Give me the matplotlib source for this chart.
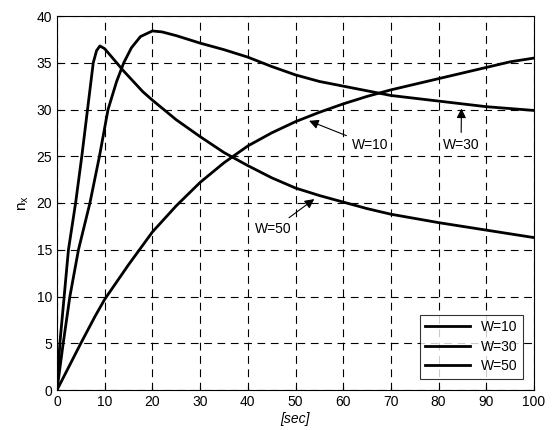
"""Load factor n_x versus time for three values of W."""

import matplotlib
matplotlib.use('Agg')
from matplotlib import pyplot as plt

plt.rcParams['font.family'] = ['Liberation Sans', 'DejaVu Sans']

# W=10: slow rise, still climbing at 100 s.
T_W10 = [0, 3, 5, 8, 10, 15, 20, 25, 30, 35, 40, 45, 50, 55, 60, 65, 70, 75, 80, 85, 90, 95, 100]
NX_W10 = [0, 3.0, 5.0, 7.9, 9.7, 13.4, 16.9, 19.7, 22.2, 24.3, 26.1, 27.5, 28.7, 29.7, 30.6, 31.4, 32.1, 32.7, 33.3, 33.9, 34.5, 35.1, 35.5]

# W=30: peak near 20 s.
T_W30 = [0, 1.3, 2.7, 4.5, 6.9, 8.9, 10.7, 12.5, 14, 15.6, 17.5, 20, 22, 25, 30, 35, 40, 45, 50, 55, 60, 65, 70, 75, 80, 85, 90, 95, 100]
NX_W30 = [0, 5, 10, 15, 20, 25, 30, 33.0, 35.0, 36.6, 37.8, 38.4, 38.3, 37.9, 37.1, 36.4, 35.6, 34.6, 33.7, 33.0, 32.5, 32.0, 31.5, 31.2, 30.9, 30.6, 30.3, 30.1, 29.9]

# W=50: sharp peak near 9 s.
T_W50 = [0, 0.6, 1.5, 2.4, 3.9, 5.2, 6.4, 7.6, 8.3, 9, 10, 12, 14, 16, 18, 20, 25, 30, 35, 40, 45, 50, 55, 60, 65, 70, 80, 90, 100]
NX_W50 = [0, 5, 10, 15, 20, 25, 30, 35, 36.3, 36.8, 36.5, 35.3, 34.1, 33.0, 31.9, 31.0, 28.9, 27.1, 25.4, 24.0, 22.7, 21.6, 20.8, 20.1, 19.4, 18.8, 17.9, 17.1, 16.3]

LEGEND_LABELS = ['W=10', 'W=30', 'W=50']


def _main():
    fig = plt.figure(figsize=(5.55, 4.30), dpi=100)
    ax = fig.add_axes([57 / 555, 1 - 390 / 430, 477 / 555, 374 / 430])

    ax.plot(T_W10, NX_W10, color='black', lw=2.0, label=LEGEND_LABELS[0])
    ax.plot(T_W30, NX_W30, color='black', lw=2.0, label=LEGEND_LABELS[1])
    ax.plot(T_W50, NX_W50, color='black', lw=2.0, label=LEGEND_LABELS[2])

    ax.set_xlim(0, 100)
    ax.set_ylim(0, 40)
    ax.set_xticks(range(0, 101, 10))
    ax.set_yticks(range(0, 41, 5))
    ax.grid(True, color='black', linestyle=(0, (7, 5)), linewidth=0.8)
    ax.tick_params(labelsize=10, direction='in', length=3)
    for sp in ax.spines.values():
        sp.set_linewidth(0.8)

    ax.set_xlabel('[sec]', fontsize=10, style='italic', labelpad=2)
    ax.set_ylabel('$\\mathregular{n_x}$', fontsize=11, labelpad=4)

    arrow = dict(arrowstyle='-|>', color='black', lw=0.8, mutation_scale=14)
    ax.annotate('W=10', xy=(52.3, 28.9), xytext=(61.8, 26.2), fontsize=10,
                va='center', ha='left', arrowprops=arrow)
    ax.annotate('W=30', xy=(84.8, 30.4), xytext=(84.7, 26.2), fontsize=10,
                va='center', ha='center', arrowprops=arrow)
    ax.annotate('W=50', xy=(54.4, 20.6), xytext=(45.4, 17.2), fontsize=10,
                va='center', ha='center', arrowprops=arrow)

    leg = ax.legend(loc='lower right', fontsize=10, frameon=True, fancybox=False,
                    edgecolor='black', handlelength=3.2, borderaxespad=0.8,
                    labelspacing=0.4)
    leg.get_frame().set_linewidth(0.8)

    fig.savefig('out.png', dpi=100)


if __name__ == '__main__':
    _main()
